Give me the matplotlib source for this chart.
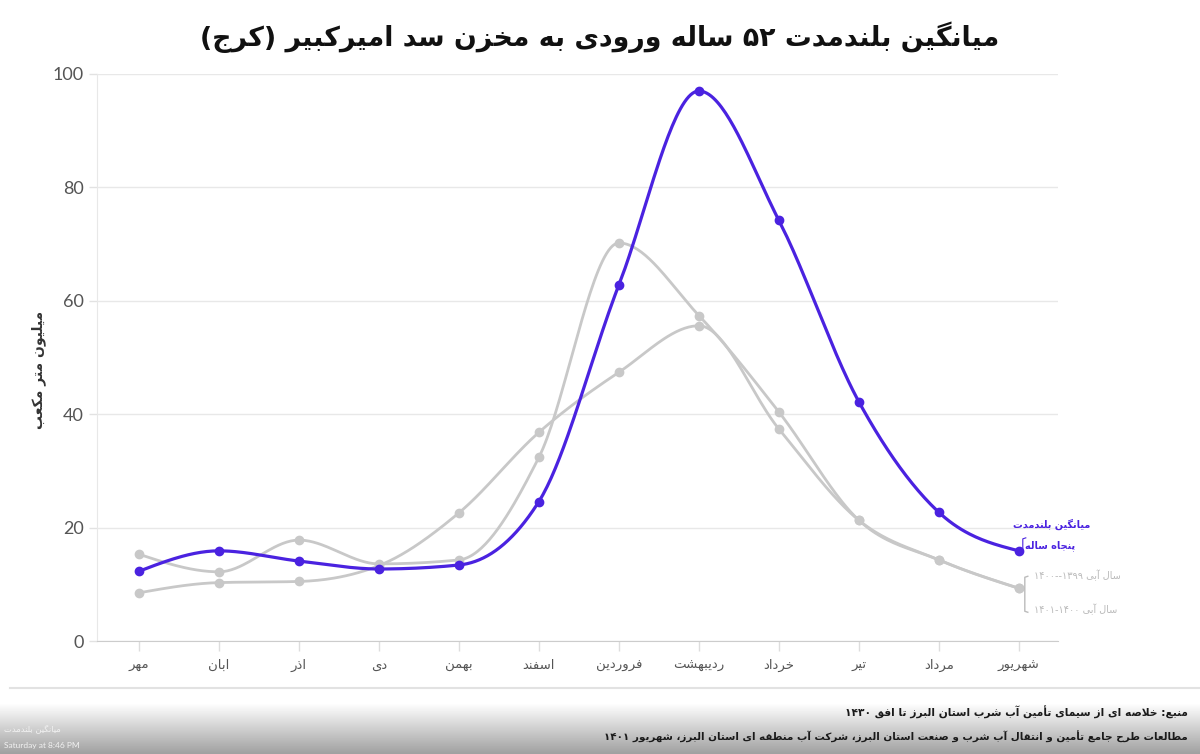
import numpy as np
import matplotlib
matplotlib.use("Agg")
import matplotlib.pyplot as plt
from matplotlib.lines import Line2D
from matplotlib.transforms import IdentityTransform

plt.rcParams['font.family'] = ['Lato', 'DejaVu Sans']

# ---- data ----
months = ["مهر", "ابان", "اذر", "دی", "بهمن", "اسفند", "فروردین",
          "ردیبهشت", "خرداد", "تیر", "مرداد", "شهریور"]
long_term = [12.3, 15.9, 14.1, 12.7, 13.4, 24.6, 62.8, 97.0, 74.2, 42.2, 22.7, 15.9]
year_1399 = [15.3, 12.2, 17.8, 13.6, 14.3, 32.4, 70.2, 57.4, 40.4, 21.3, 14.3, 9.3]
year_1400 = [8.5, 10.3, 10.5, 13.3, 22.6, 36.8, 47.4, 55.6, 37.4, 21.3, 14.3, 9.3]
y_ticks = [0, 20, 40, 60, 80, 100]

title = "میانگین بلندمدت ۵۲ ساله ورودی به مخزن سد امیرکبیر (کرج)"
y_label = "میلیون متر مکعب"
lbl_avg = ["میانگین بلندمدت", "پنجاه ساله"]
lbl_1399 = "سال آبی ۱۳۹۹--۱۴۰۰"
lbl_1400 = "سال آبی ۱۴۰۰-۱۴۰۱"
source1 = "منبع: خلاصه ای از سیمای تأمین آب شرب استان البرز تا افق ۱۴۳۰"
source2 = "مطالعات طرح جامع تأمین و انتقال آب شرب و صنعت استان البرز، شرکت آب منطقه ای استان البرز، شهریور ۱۴۰۱"

PURPLE = "#4a22e0"
GRAY = "#c8c8c8"

# ---- simple persian shaping (matplotlib has no complex text layout) ----
RIGHT = {'\u0622': 0xFE81, '\u0623': 0xFE83, '\u0627': 0xFE8D, '\u062F': 0xFEA9,
         '\u0630': 0xFEAB, '\u0631': 0xFEAD, '\u0632': 0xFEAF, '\u0698': 0xFB8A,
         '\u0648': 0xFEED}
DUAL = {'\u0628': 0xFE8F, '\u062A': 0xFE95, '\u062B': 0xFE99, '\u062C': 0xFE9D,
        '\u062D': 0xFEA1, '\u062E': 0xFEA5, '\u0633': 0xFEB1, '\u0634': 0xFEB5,
        '\u0635': 0xFEB9, '\u0636': 0xFEBD, '\u0637': 0xFEC1, '\u0638': 0xFEC5,
        '\u0639': 0xFEC9, '\u063A': 0xFECD, '\u0641': 0xFED1, '\u0642': 0xFED5,
        '\u0644': 0xFEDD, '\u0645': 0xFEE1, '\u0646': 0xFEE5, '\u0647': 0xFEE9,
        '\u064A': 0xFEF1, '\u0626': 0xFE89, '\u067E': 0xFB56, '\u0686': 0xFB7A,
        '\u06A9': 0xFB8E, '\u06AF': 0xFB92, '\u06CC': 0xFBFC}
LAMALEF = {'\u0627': 0xFEFB, '\u0622': 0xFEF5, '\u0623': 0xFEF7}
DIGITS = set("0123456789۰۱۲۳۴۵۶۷۸۹")
MIRROR = {'(': ')', ')': '(', '[': ']', ']': '['}


def fa(s):
    out = []
    i = 0
    n = len(s)
    while i < n:
        c = s[i]
        prev = s[i - 1] if i > 0 else ''
        nxt = s[i + 1] if i + 1 < n else ''
        jp = prev in DUAL
        if c == '\u0644' and nxt in LAMALEF:
            out.append(chr(LAMALEF[nxt] + (1 if jp else 0)))
            i += 2
            continue
        if c in DUAL:
            jn = nxt in DUAL or nxt in RIGHT
            off = 3 if (jp and jn) else 1 if jp else 2 if jn else 0
            out.append(chr(DUAL[c] + off))
        elif c in RIGHT:
            out.append(chr(RIGHT[c] + (1 if jp else 0)))
        else:
            out.append(c)
        i += 1
    # visual order: reverse, keep digit runs left-to-right
    tokens = []
    for c in out:
        if c in DIGITS and tokens and tokens[-1][0] in DIGITS:
            tokens[-1] += c
        else:
            tokens.append(MIRROR.get(c, c))
    return ''.join(reversed(tokens))


def monotone(x, y, n=40):
    x = np.asarray(x, float)
    y = np.asarray(y, float)
    h = np.diff(x)
    s = np.diff(y) / h
    m = np.zeros_like(y)
    for i in range(1, len(y) - 1):
        p = (s[i - 1] * h[i] + s[i] * h[i - 1]) / (h[i - 1] + h[i])
        m[i] = (np.sign(s[i - 1]) + np.sign(s[i])) * min(abs(s[i - 1]), abs(s[i]), 0.5 * abs(p))
    m[0] = (3 * s[0] - m[1]) / 2
    m[-1] = (3 * s[-1] - m[-2]) / 2
    xs, ys = [], []
    t = np.linspace(0, 1, n)
    for i in range(len(h)):
        h00 = 2 * t**3 - 3 * t**2 + 1
        h10 = t**3 - 2 * t**2 + t
        h01 = -2 * t**3 + 3 * t**2
        h11 = t**3 - t**2
        xs.append(x[i] + t * h[i])
        ys.append(h00 * y[i] + h10 * h[i] * m[i] + h01 * y[i + 1] + h11 * h[i] * m[i + 1])
    return np.concatenate(xs), np.concatenate(ys)


fig = plt.figure(figsize=(12, 7.54), dpi=100)
ax = fig.add_axes([97 / 1200, 113 / 754, 961 / 1200, 567 / 754])

x = np.arange(len(months))
for vals, col, lw, z in [(year_1399, GRAY, 2.0, 3), (year_1400, GRAY, 2.0, 3),
                         (long_term, PURPLE, 2.3, 4)]:
    sx, sy = monotone(x, vals)
    ax.plot(sx, sy, color=col, lw=lw, zorder=z, solid_capstyle='round', clip_on=False)
    ax.plot(x, vals, 'o', color=col, ms=6, zorder=z, clip_on=False)

ax.set_xlim(-0.525, 11.49)
ax.set_ylim(0, 100)
ax.set_yticks(y_ticks)
ax.set_xticks(x)
ax.set_xticklabels([fa(m) for m in months], family='DejaVu Sans', fontsize=9.5, color='#555555')
ax.tick_params(axis='y', labelsize=13, labelcolor='#555555', color='#e2e2e2', length=6, width=1)
ax.tick_params(axis='x', color='#dddddd', length=7, width=1, pad=6)
ax.grid(axis='y', color='#e8e8e8', lw=1)
ax.set_axisbelow(True)
for side in ['top', 'right']:
    ax.spines[side].set_visible(False)
ax.spines['left'].set_color('#e8e8e8')
ax.spines['bottom'].set_color('#cccccc')

fig.text(0.5, 0.951, fa(title), ha='center', va='center', fontsize=19.3,
         fontweight='bold', family='DejaVu Sans', color='#111111')
fig.text(0.032, 0.509, fa(y_label), rotation=90, ha='center', va='center',
         fontsize=10, fontweight='bold', family='DejaVu Sans', color='#333333')

# ---- end labels, placed relative to last points ----
fig.canvas.draw()
px, py = ax.transData.transform((x[-1], long_term[-1]))
gx, gy = ax.transData.transform((x[-1], year_1399[-1]))
fig.text(px + 71, py + 27, fa(lbl_avg[0]), transform=IdentityTransform(), ha='right',
         va='center', fontsize=7, fontweight='bold', family='DejaVu Sans', color=PURPLE)
fig.text(px + 56, py + 5, fa(lbl_avg[1]), transform=IdentityTransform(), ha='right',
         va='center', fontsize=7, fontweight='bold', family='DejaVu Sans', color=PURPLE)
fig.add_artist(Line2D([px + 7, px + 4, px + 4], [py + 13, py + 12, py + 2],
                      transform=IdentityTransform(), color=PURPLE, lw=0.8))
fig.text(gx + 15, gy + 13, fa(lbl_1399), transform=IdentityTransform(), ha='left',
         va='center', fontsize=7, family='DejaVu Sans', color='#bbbbbb')
fig.text(gx + 15, gy - 21, fa(lbl_1400), transform=IdentityTransform(), ha='left',
         va='center', fontsize=7, family='DejaVu Sans', color='#bbbbbb')
fig.add_artist(Line2D([gx + 9, gx + 6, gx + 6, gx + 9], [gy + 12, gy + 11, gy - 23, gy - 24],
                      transform=IdentityTransform(), color='#bbbbbb', lw=1))

# ---- footer ----
fig.add_artist(Line2D([0.008, 1.0], [0.0875, 0.0875], color='#e2e2e2', lw=1.5))
grad = np.linspace(1.0, 0.63, 64).reshape(-1, 1)
gax = fig.add_axes([0, 0, 1, 50 / 754])
gax.imshow(grad, aspect='auto', cmap='gray', vmin=0, vmax=1, extent=[0, 1, 0, 1])
gax.axis('off')
fig.text(0.99, 0.0557, fa(source1), ha='right', va='center', fontsize=7.7,
         fontweight='bold', family='DejaVu Sans', color='#1a1a1a', zorder=10)
fig.text(0.99, 0.0225, fa(source2), ha='right', va='center', fontsize=7.5,
         fontweight='bold', family='DejaVu Sans', color='#1a1a1a', zorder=10)
fig.text(0.003, 0.032, fa("میانگین بلندمدت"), ha='left', va='center', fontsize=6,
         family='DejaVu Sans', color='#f2f2f2', zorder=10)
fig.text(0.003, 0.011, "Saturday at 8:46 PM", ha='left', va='center', fontsize=6,
         color='#f2f2f2', zorder=10)

fig.savefig("out.png", dpi=100)
